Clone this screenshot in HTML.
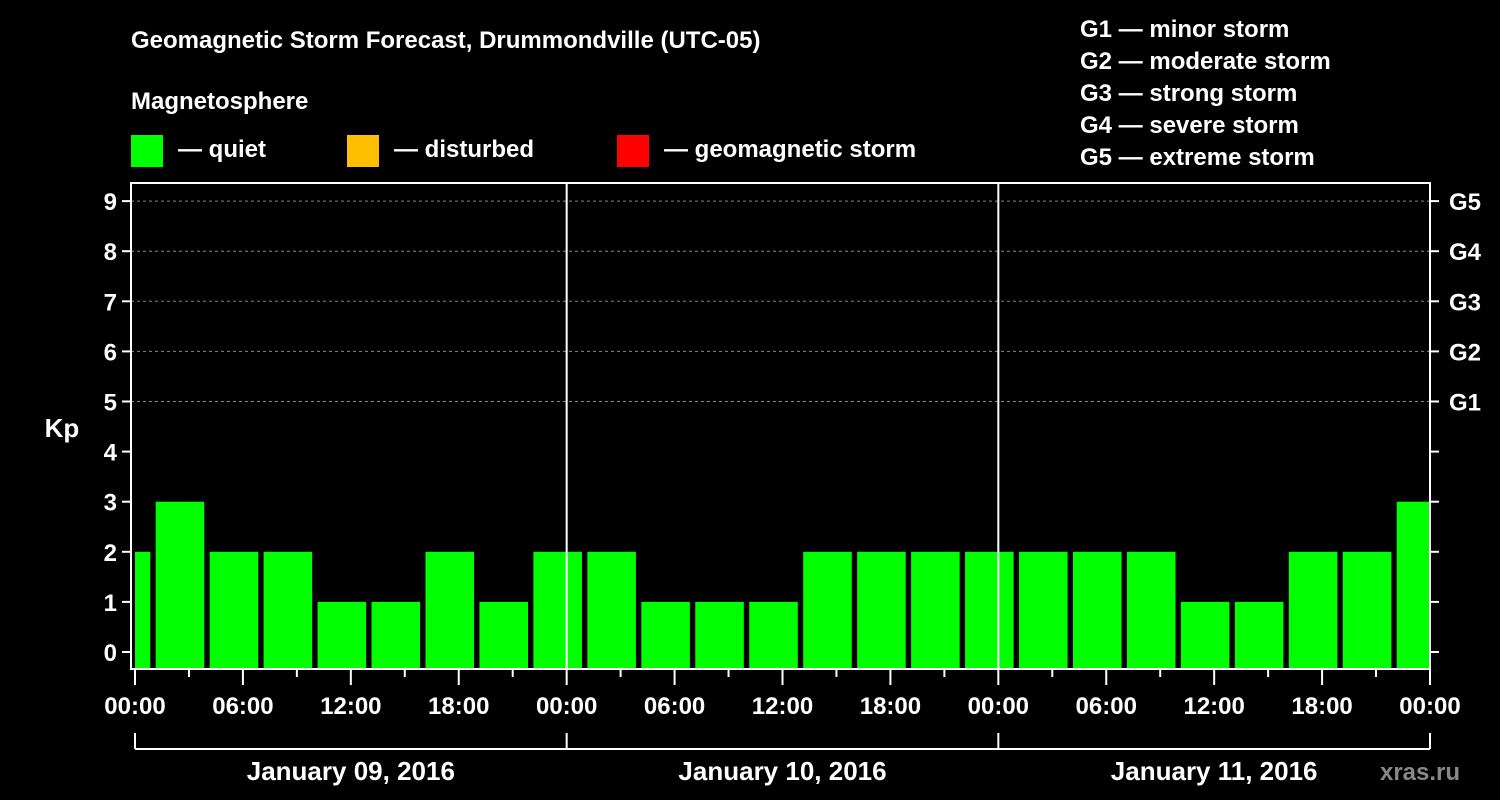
<!DOCTYPE html>
<html><head><meta charset="utf-8"><style>
html,body{margin:0;padding:0;background:#000;}
svg{display:block;font-family:"Liberation Sans",sans-serif;font-weight:bold;}
</style></head><body>
<svg id="chart" width="1500" height="800" viewBox="0 0 1500 800">
<text x="131" y="48" fill="#fff" font-size="24">Geomagnetic Storm Forecast, Drummondville (UTC-05)</text>
<text x="131" y="109" fill="#fff" font-size="24">Magnetosphere</text>
<g><rect x="131" y="135" width="32" height="32" fill="#00ff00"/><text x="178" y="157" fill="#fff" font-size="24">— quiet</text></g>
<g><rect x="347" y="135" width="32" height="32" fill="#ffbf00"/><text x="394" y="157" fill="#fff" font-size="24">— disturbed</text></g>
<g><rect x="617" y="135" width="32" height="32" fill="#ff0000"/><text x="664" y="157" fill="#fff" font-size="24">— geomagnetic storm</text></g>
<g fill="#fff" font-size="24">
<text x="1080" y="37">G1 — minor storm</text>
<text x="1080" y="69">G2 — moderate storm</text>
<text x="1080" y="101">G3 — strong storm</text>
<text x="1080" y="133">G4 — severe storm</text>
<text x="1080" y="165">G5 — extreme storm</text>
</g>
<text x="62" y="437" fill="#fff" font-size="26" text-anchor="middle">Kp</text>
<text x="1420" y="780" fill="#888" font-size="24" text-anchor="middle">xras.ru</text>
<g id="grid"></g><g id="bars"></g><g id="axes"></g>
</svg>
<script>
const kpValues=[2,3,2,2,1,1,2,1,2,2,1,1,1,2,2,2,2,2,2,2,1,1,2,2,3];
const barHours=[-0.5,2.5,5.5,8.5,11.5,14.5,17.5,20.5,23.5,26.5,29.5,32.5,35.5,38.5,41.5,44.5,47.5,50.5,53.5,56.5,59.5,62.5,65.5,68.5,71.5];
const yTicks=[0,1,2,3,4,5,6,7,8,9];
const gLabels=["G1","G2","G3","G4","G5"];
const gLevels=[5,6,7,8,9];
const xTickLabels=["00:00","06:00","12:00","18:00","00:00","06:00","12:00","18:00","00:00","06:00","12:00","18:00","00:00"];
const dayLabels=["January 09, 2016","January 10, 2016","January 11, 2016"];
const NS="http://www.w3.org/2000/svg";
const L=131,R=1430,T=183,B=669;
const x=h=>135+h*(1295/72);
const y=k=>652-k*50.1;
function mk(tag,attrs,parent,txt){const e=document.createElementNS(NS,tag);for(const k in attrs)e.setAttribute(k,attrs[k]);if(txt!==undefined)e.textContent=txt;parent.appendChild(e);return e;}
const grid=document.getElementById('grid'),bars=document.getElementById('bars'),axes=document.getElementById('axes');
gLevels.forEach(k=>{const l=mk('line',{x1:L,x2:R,y1:y(k),y2:y(k),stroke:'#888','stroke-dasharray':'3,3','stroke-width':1},grid);

});
const bw=1.35*(1295/72);
kpValues.forEach((v,i)=>{const x0=Math.max(x(barHours[i])-bw,135),x1=Math.min(x(barHours[i])+bw,R);
const c=v>=5?'#ff0000':(v>=4?'#ffbf00':'#00ff00');
const r=mk('rect',{x:x0,y:y(v),width:x1-x0,height:B-y(v),fill:c},bars);

});
[1,2].forEach(d=>{mk('line',{x1:x(24*d),x2:x(24*d),y1:T,y2:B,stroke:'#fff','stroke-width':2},axes);});
const frame=mk('rect',{x:L,y:T,width:R-L,height:B-T,fill:'none',stroke:'#fff','stroke-width':2},axes);


yTicks.forEach(k=>{mk('line',{x1:L-9,x2:L,y1:y(k),y2:y(k),stroke:'#fff','stroke-width':2},axes);
mk('line',{x1:R,x2:R+9,y1:y(k),y2:y(k),stroke:'#fff','stroke-width':2},axes);
const t=mk('text',{x:L-14,y:y(k)+9,fill:'#fff','font-size':24,'text-anchor':'end'},axes,String(k));

});
gLabels.forEach((g,i)=>{const t=mk('text',{x:1449,y:y(gLevels[i])+9,fill:'#fff','font-size':24},axes,g);

});
for(let h=0;h<=72;h+=3){const major=h%6===0;mk('line',{x1:x(h),x2:x(h),y1:B,y2:B+(major?16:8),stroke:'#fff','stroke-width':2},axes);}
xTickLabels.forEach((s,i)=>{const t=mk('text',{x:x(i*6),y:714,fill:'#fff','font-size':24,'text-anchor':'middle'},axes,s);

});
mk('line',{x1:x(0),x2:R,y1:749,y2:749,stroke:'#fff','stroke-width':2},axes);
[0,24,48,72].forEach(h=>mk('line',{x1:x(h),x2:x(h),y1:733,y2:749,stroke:'#fff','stroke-width':2},axes));
dayLabels.forEach((s,i)=>{const t=mk('text',{x:x(24*i+12),y:780,fill:'#fff','font-size':26,'text-anchor':'middle'},axes,s);

});
</script>
</body></html>
